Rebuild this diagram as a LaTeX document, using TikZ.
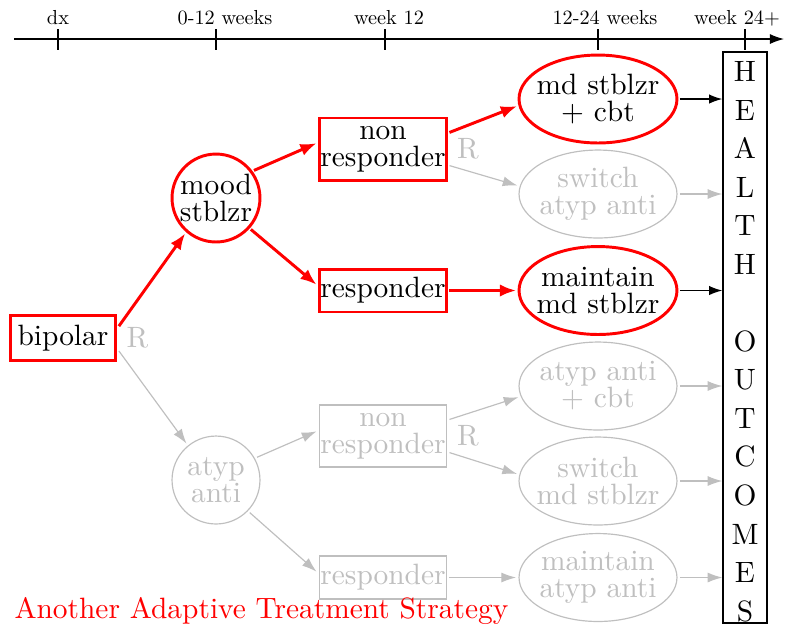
\documentclass[tikz,border=0pt]{standalone}
\usetikzlibrary{arrows.meta,shapes.geometric}
\definecolor{fade}{gray}{0.75}
\newcommand{\axtext}[1]{\scalebox{0.69}{#1}}
\begin{document}
\begin{tikzpicture}[x=0.34pt,y=-0.34pt,
  every node/.style={font=\fontsize{10pt}{9.2pt}\selectfont, align=center},
  hot/.style={draw=red, line width=1pt},
  cold/.style={draw=fade, text=fade, line width=0.4pt},
  sq/.style={rectangle, inner sep=0pt, outer sep=1pt},
  bigsq/.style={sq, minimum width=43.2pt, minimum height=21.1pt},
  smallsq/.style={sq, minimum width=43.2pt, minimum height=14.6pt},
  disc/.style={circle, inner sep=0pt, minimum size=29.9pt, outer sep=1pt},
  oval/.style={ellipse, inner xsep=-2pt, inner ysep=0pt, minimum width=53.7pt, minimum height=29.9pt, outer sep=1pt},
  redarr/.style={draw=red, line width=1pt, -{Latex[length=5.5pt,width=4.2pt]}},
  grayarr/.style={draw=fade, line width=0.4pt, -{Latex[length=5pt,width=3.4pt]}},
  blackarr/.style={draw=black, line width=0.5pt, -{Latex[length=4.5pt,width=3.2pt]}},
  axisline/.style={draw=black, line width=0.4pt, -{Latex[length=4.8pt,width=3.4pt]}},
  axtick/.style={draw=black, line width=0.4pt},
  tlabel/.style={font=\fontsize{10pt}{12pt}\selectfont, inner sep=0pt},
  rmark/.style={text=fade, anchor=west, inner sep=0pt}
]
\useasboundingbox (0,0) rectangle (785,624);

% time axis
\coordinate (axL) at (14,39);
\coordinate (axR) at (784,39);
\draw[axisline] (axL) -- (axR);
\foreach \x in {58,216,385,598,745}
  \draw[axtick] (\x,29) -- (\x,50);
\node[tlabel] (t1) at (58,18) {\axtext{dx}};
\node[tlabel] (t2) at (225,18) {\axtext{0-12 weeks}};
\node[tlabel] (t3) at (389,18) {\axtext{week 12}};
\node[tlabel] (t4) at (605,18) {\axtext{12-24 weeks}};
\node[tlabel] (t5) at (737,18) {\axtext{week 24+}};

% decision tree
\node[sq, hot, minimum width=36pt, minimum height=15pt] (bip) at (63,338) {bipolar};
\node[disc, hot] (mood) at (216,198) {mood\\stblzr};
\node[disc, cold] (atyp) at (216,480) {atyp\\anti};
\node[bigsq, hot] (nr1) at (383,149) {non\\responder};
\node[smallsq, hot] (rs1) at (383,290.5) {responder};
\node[bigsq, cold] (nr2) at (383,436) {non\\responder};
\node[smallsq, cold] (rs2) at (383,577.5) {responder};

\node[oval, hot] (e1) at (598,99) {md stblzr\\+ cbt};
\node[oval, cold] (e2) at (598,194) {switch\\atyp anti};
\node[oval, hot] (e3) at (598,290.5) {maintain\\md stblzr};
\node[oval, cold] (e4) at (598,386) {atyp anti\\+ cbt};
\node[oval, cold] (e5) at (598,481) {switch\\md stblzr};
\node[oval, cold] (e6) at (598,577.5) {maintain\\atyp anti};

% outcome column
\node[draw, line width=0.4pt, inner sep=0pt, minimum width=15pt, minimum height=194.1pt]
  (out) at (745,337.5) {};
\node[inner sep=0pt, font=\fontsize{10pt}{13.1pt}\selectfont] (outtxt) at ([yshift=-1.4pt]out.center)
  {H\\E\\A\\L\\T\\H\\[13.1pt]O\\U\\T\\C\\O\\M\\E\\S};

% randomisation marks
\node[rmark] (r1) at ([xshift=2.4pt]bip.east) {R};
\node[rmark] (r2) at ([xshift=2.4pt]nr1.east) {R};
\node[rmark] (r3) at ([xshift=2.4pt]nr2.east) {R};

% inactive branches
\draw[grayarr] (bip.-13) -- (atyp.129);
\draw[grayarr] (nr1.-14) -- (e2.174);
\draw[grayarr] (atyp.29) -- (nr2.176);
\draw[grayarr] (atyp.-44) -- (rs2.175);
\draw[grayarr] (nr2.14) -- (e4.188);
\draw[grayarr] (nr2.-14) -- (e5.175);
\draw[grayarr] (rs2.east) -- (e6.west);
\foreach \e in {e2,e4,e5,e6}
  \draw[grayarr] (\e.east) -- (\e.east -| out.west);

% highlighted strategy
\draw[redarr] (bip.12) -- (mood.229);
\draw[redarr] (mood.36) -- (nr1.175);
\draw[redarr] (mood.-42) -- (rs1.175);
\draw[redarr] (nr1.14) -- (e1.185);
\draw[redarr] (rs1.east) -- (e3.west);
\foreach \e in {e1,e3}
  \draw[blackarr] (\e.east) -- (\e.east -| out.west);

\node[text=red, anchor=base west, inner sep=0pt, font=\fontsize{10pt}{12pt}\selectfont]
  (title) at (14,618) {Another Adaptive Treatment Strategy};
\end{tikzpicture}
\end{document}
